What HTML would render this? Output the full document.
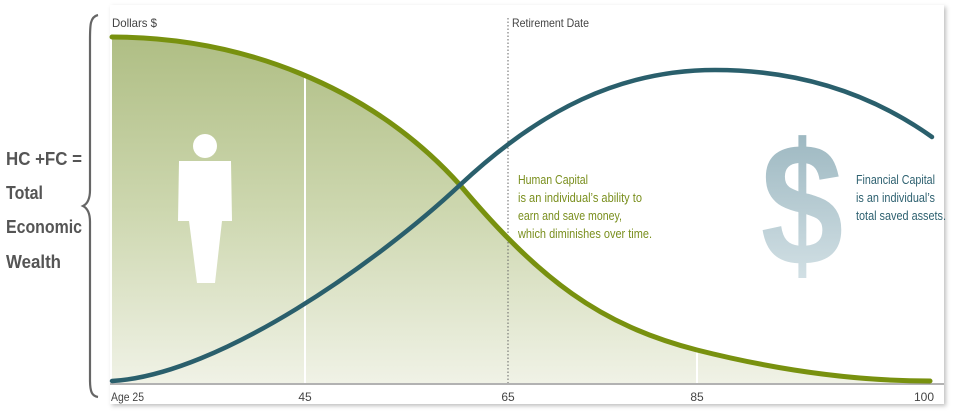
<!DOCTYPE html>
<html><head><meta charset="utf-8"><style>
body{margin:0;background:#fff;}
svg{display:block;font-family:"Liberation Sans",sans-serif;}
</style></head><body>
<svg width="956" height="416" viewBox="0 0 956 416">
<defs>
<linearGradient id="g" x1="0" y1="0" x2="0" y2="1">
<stop offset="0" stop-color="#afbe84"/><stop offset="0.5" stop-color="#cdd7af"/><stop offset="1" stop-color="#f0f2e6"/>
</linearGradient>
<linearGradient id="d" x1="0" y1="0" x2="0" y2="1">
<stop offset="0" stop-color="#94b1bb"/><stop offset="1" stop-color="#dae6ea"/>
</linearGradient>
<filter id="sh"><feDropShadow dx="2" dy="2" stdDeviation="2" flood-color="#000" flood-opacity="0.25"/></filter>
</defs>
<rect x="110" y="5" width="834" height="399" fill="#fff" filter="url(#sh)"/>
<path d="M112,37 C240,37 370,85 460,185 C540,280 600,325 697,350 C800,376 880,381 930,381 L930,383 L112,383 Z" fill="url(#g)"/>
<line x1="305" y1="60" x2="305" y2="383" stroke="#fff" stroke-width="2"/>
<line x1="697" y1="340" x2="697" y2="383" stroke="#fff" stroke-width="2"/>
<line x1="508" y1="18" x2="508" y2="383" stroke="#666" stroke-width="1" stroke-dasharray="1.5,2"/>
<line x1="110" y1="384" x2="944" y2="384" stroke="#999" stroke-width="1.5"/>
<path d="M112,37 C240,37 370,85 460,185 C540,280 600,325 697,350 C800,376 880,381 930,381" fill="none" stroke="#78910f" stroke-width="5" stroke-linecap="round"/>
<path d="M112,381 C220,375 380,260 460,185 C540,110 620,70 715,70 C810,70 880,100 932,137" fill="none" stroke="#2a5f6c" stroke-width="4.5" stroke-linecap="round"/>
<circle cx="205" cy="146" r="12" fill="#fff"/>
<path d="M179,161 H231 L232,221 H222 L215,283 H197 L189,221 H178 Z" fill="#fff"/>
<text x="0" y="0" font-size="175" font-weight="bold" fill="url(#d)" text-anchor="middle" transform="translate(802,265) scale(0.85,1)">$</text>
<text x="112" y="27" font-size="12" fill="#444" textLength="45" lengthAdjust="spacingAndGlyphs">Dollars $</text>
<text x="512" y="27" font-size="12" fill="#444" textLength="77" lengthAdjust="spacingAndGlyphs">Retirement Date</text>
<g font-size="12.5" fill="#7a8f1e" lengthAdjust="spacingAndGlyphs">
<text x="518" y="184" textLength="70" lengthAdjust="spacingAndGlyphs">Human Capital</text>
<text x="518" y="202" textLength="124" lengthAdjust="spacingAndGlyphs">is an individual’s ability to</text>
<text x="518" y="220" textLength="104" lengthAdjust="spacingAndGlyphs">earn and save money,</text>
<text x="518" y="238" textLength="134" lengthAdjust="spacingAndGlyphs">which diminishes over time.</text>
</g>
<g font-size="12.5" fill="#2e6170">
<text x="856" y="184" textLength="79" lengthAdjust="spacingAndGlyphs">Financial Capital</text>
<text x="856" y="202" textLength="79" lengthAdjust="spacingAndGlyphs">is an individual’s</text>
<text x="856" y="220" textLength="90" lengthAdjust="spacingAndGlyphs">total saved assets.</text>
</g>
<g font-size="12" fill="#444">
<text x="111" y="401" textLength="33" lengthAdjust="spacingAndGlyphs">Age 25</text>
<text x="305" y="401" text-anchor="middle">45</text>
<text x="508" y="401" text-anchor="middle">65</text>
<text x="697" y="401" text-anchor="middle">85</text>
<text x="924" y="401" text-anchor="middle">100</text>
</g>
<g font-size="18" font-weight="bold" fill="#555">
<text x="6" y="165" textLength="76" lengthAdjust="spacingAndGlyphs">HC +FC =</text>
<text x="6" y="199" textLength="37" lengthAdjust="spacingAndGlyphs">Total</text>
<text x="6" y="233" textLength="76" lengthAdjust="spacingAndGlyphs">Economic</text>
<text x="6" y="268" textLength="55" lengthAdjust="spacingAndGlyphs">Wealth</text>
</g>
<path d="M98,15 C90,17 90,25 90,40 L90,190 C90,200 87,204 83,206 C87,208 90,212 90,222 L90,380 C90,392 92,396 98,397" fill="none" stroke="#666" stroke-width="2.2"/>
</svg>
</body></html>
